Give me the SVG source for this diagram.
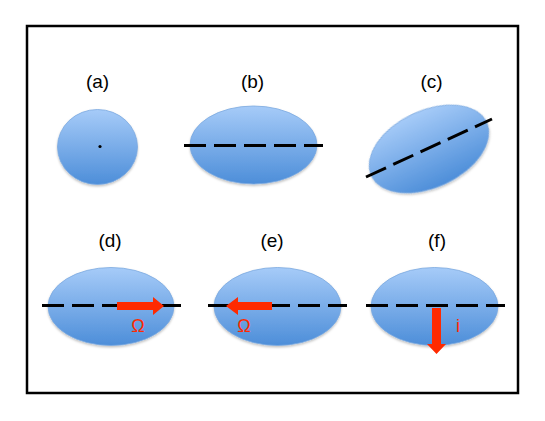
<svg xmlns="http://www.w3.org/2000/svg" width="545" height="421" viewBox="0 0 545 421">
<defs>
<linearGradient id="blue" x1="0" y1="0" x2="0" y2="1">
<stop offset="0" stop-color="#a6cbf8"/>
<stop offset="1" stop-color="#4d8ed9"/>
</linearGradient>
<filter id="sh" x="-20%" y="-20%" width="140%" height="150%">
<feDropShadow dx="0" dy="1.5" stdDeviation="1.2" flood-color="#000" flood-opacity="0.25"/>
</filter>
</defs>
<style>
.el{fill:url(#blue);stroke:#7aa8e0;stroke-width:0.8;filter:url(#sh)}
.dash{stroke:#000;stroke-width:3;stroke-dasharray:22 8;fill:none}
.lbl{font-family:"Liberation Sans",Arial,sans-serif;font-size:19px;fill:#000;text-anchor:middle}
.sym{font-family:"Liberation Sans",Arial,sans-serif;font-size:18px;fill:#ff2a00;text-anchor:middle}
.arr{fill:#ff2a00}
</style>
<rect x="27" y="26" width="491" height="367" fill="#fff" stroke="#000" stroke-width="2.5"/>
<g id="a">
<text class="lbl" x="97.5" y="88">(a)</text>
<ellipse class="el" cx="97.5" cy="147" rx="40" ry="37.5"/>
<circle cx="100" cy="146.5" r="1.6" fill="#000"/>
</g>
<g id="b">
<text class="lbl" x="252.5" y="88">(b)</text>
<ellipse class="el" cx="253.5" cy="145" rx="63.5" ry="39"/>
</g>
<g id="c">
<text class="lbl" x="431.5" y="88">(c)</text>
<ellipse class="el" cx="429" cy="149" rx="63.5" ry="38.5" transform="rotate(-25 429 149)"/>
</g>
<g id="d">
<text class="lbl" x="110" y="247">(d)</text>
<ellipse class="el" cx="111" cy="306.5" rx="63" ry="39"/>
</g>
<g id="e">
<text class="lbl" x="272" y="247">(e)</text>
<ellipse class="el" cx="277.5" cy="306.5" rx="63.5" ry="39"/>
</g>
<g id="f">
<text class="lbl" x="437" y="247">(f)</text>
<ellipse class="el" cx="434.5" cy="306.5" rx="63.5" ry="39"/>
</g>
<g id="connectors">
<line class="dash" x1="184" y1="145.5" x2="323" y2="145.5"/>
<line class="dash" x1="366" y1="177" x2="492" y2="119"/>
<line class="dash" x1="42" y1="305.5" x2="181" y2="305.5"/>
<line class="dash" x1="208" y1="305.5" x2="347" y2="305.5"/>
<line class="dash" x1="366" y1="305.5" x2="505" y2="305.5"/>
<polygon class="arr" points="117,302 153,302 153,297 164,306 153,315 153,310 117,310"/>
<polygon class="arr" points="272,302 238,302 238,297 226,306 238,315 238,310 272,310"/>
<polygon class="arr" points="432,308 441,308 441,344 446,344 436.5,354 427,344 432,344"/>
<text class="sym" x="138" y="332">Ω</text>
<text class="sym" x="244" y="332">Ω</text>
<text class="sym" x="458" y="332">i</text>
</g>
</svg>
